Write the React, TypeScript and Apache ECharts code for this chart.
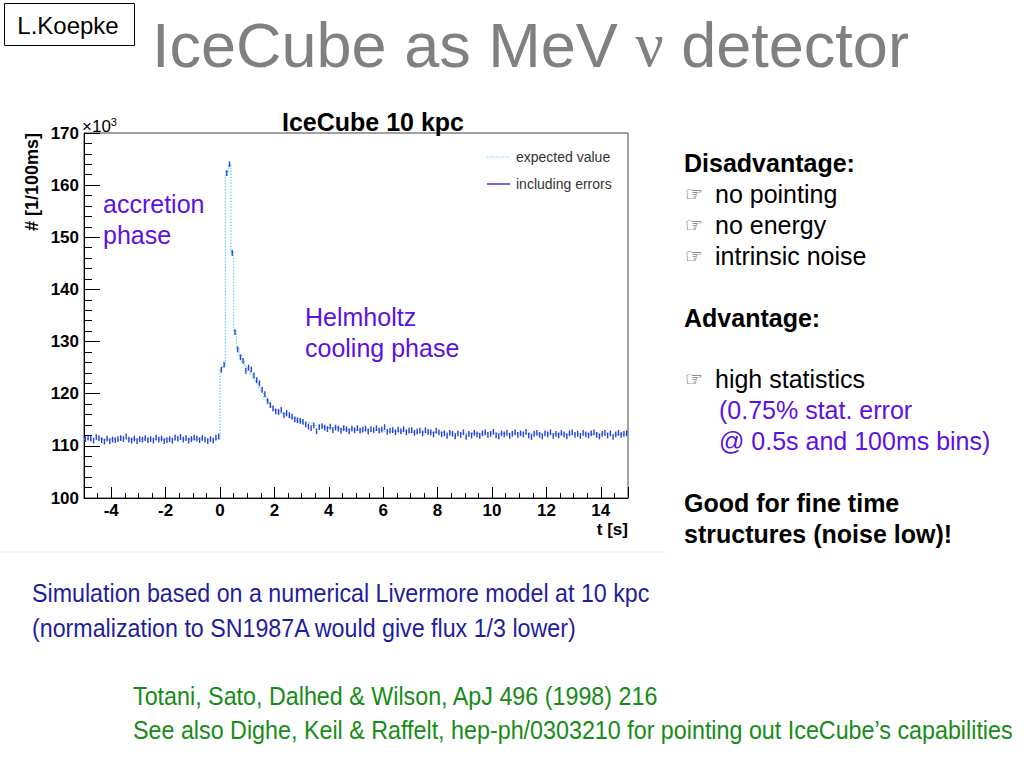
import React, { useEffect, useRef } from 'react';
import * as echarts from 'echarts';

// ---- data (counts per 100 ms bin, in units of 10^3) ----
const BIN_START = -5;
const BIN_WIDTH = 0.1;
const X_MIN = -5;
const X_MAX = 15;
const Y_MIN = 100;
const Y_MAX = 170;

// t = -5.0 .. -0.1
const preBurst = [
  111.3, 111.6, 111.4, 111.0, 111.7, 111.5, 111.1, 110.8, 111.4, 110.9,
  111.2, 111.1, 111.3, 111.5, 111.3, 111.8, 111.2, 111.0, 111.4, 110.9,
  111.3, 111.2, 111.5, 111.1, 111.3, 111.0, 111.6, 111.2, 111.4, 110.9,
  111.1, 111.3, 111.0, 111.6, 111.4, 111.7, 111.2, 111.5, 111.0, 111.3,
  111.6, 111.4, 111.1, 111.5, 111.2, 110.9, 111.3, 111.0, 111.6, 111.8,
];
// t = 0.0 .. 2.9
const burst = [
  124.6, 125.6, 162.3, 164.0, 147.0, 131.8, 128.5, 127.0, 126.3, 124.4,
  125.0, 124.6, 123.5, 122.6, 122.0, 120.8, 119.9, 118.6, 117.8, 117.2,
  116.6, 116.5, 116.9, 115.9, 116.3, 115.9, 115.6, 115.1, 114.9, 114.8,
];
// t = 3.0 .. 7.9
const cooling = [
  114.6, 114.1, 113.7, 113.4, 113.9, 112.8, 113.6, 113.8, 113.5, 113.2,
  113.7, 113.0, 113.5, 113.3, 112.9, 113.4, 113.2, 112.8, 113.3, 113.0,
  113.4, 112.9, 113.1, 113.3, 112.8, 113.2, 113.0, 113.4, 112.9, 113.1,
  113.6, 112.7, 112.9, 113.0, 112.6, 113.1, 112.8, 113.2, 112.6, 112.9,
  113.0, 112.5, 112.8, 112.9, 112.4, 113.0, 112.7, 112.6, 112.2, 112.9,
];
// t = 8.0 .. 14.9
const tail = [
  112.6, 112.2, 112.4, 111.9, 112.5, 112.3, 111.8, 112.4, 112.1, 112.6,
  111.7, 112.3, 112.0, 112.5, 112.2, 111.9, 112.4, 112.6, 112.1, 112.3,
  112.7, 112.0, 111.8, 112.4, 112.2, 112.5, 111.9, 112.3, 112.6, 112.1,
  112.4, 112.2, 112.7, 112.0, 111.7, 112.3, 112.5, 112.1, 111.8, 112.4,
  112.2, 112.6, 111.9, 112.3, 112.0, 112.5, 112.2, 111.8, 112.4, 112.6,
  112.1, 112.3, 111.9, 112.5, 112.2, 112.0, 112.4, 112.6, 112.1, 111.8,
  112.3, 112.5, 112.0, 112.4, 111.7, 112.2, 112.5, 112.1, 112.3, 112.4,
];
const measured = [...preBurst, ...burst, ...cooling, ...tail];
const ERROR_HALF = 0.55;

// expected value (model), low edges of (merged) bins and contents
const expectedEdges = [
  -5, 0, 0.1, 0.2, 0.3, 0.4, 0.5, 0.6, 0.7, 0.8, 0.9, 1.0, 1.1, 1.2, 1.3, 1.4,
  1.5, 1.6, 1.7, 1.8, 1.9, 2.0, 2.2, 2.4, 2.6, 2.8, 3.0, 3.4, 3.8, 4.4, 5.0,
  6.0, 7.0, 8.5, 10, 12,
];
const expectedValues = [
  111.3, 124.8, 125.3, 162.6, 164.1, 147.2, 132.0, 128.7, 127.3, 126.2, 125.2,
  124.5, 123.8, 122.9, 122.1, 121.2, 120.3, 119.4, 118.6, 117.9, 117.3, 116.7,
  116.2, 115.7, 115.3, 114.9, 114.4, 113.9, 113.5, 113.2, 113.0, 112.8, 112.6,
  112.4, 112.3, 112.2,
];

const rightText = [
  { text: 'Disadvantage:', kind: 'bold' },
  { text: 'no pointing', kind: 'hand' },
  { text: 'no energy', kind: 'hand' },
  { text: 'intrinsic noise', kind: 'hand' },
  { text: '', kind: 'blank' },
  { text: 'Advantage:', kind: 'bold' },
  { text: '', kind: 'blank' },
  { text: 'high statistics', kind: 'hand' },
  { text: '(0.75% stat. error', kind: 'purple' },
  { text: '@ 0.5s and 100ms bins)', kind: 'purple' },
  { text: '', kind: 'blank' },
  { text: 'Good for fine time', kind: 'bold' },
  { text: 'structures (noise low)!', kind: 'bold' },
];

const FONT = '"Liberation Sans", Arial, Helvetica, sans-serif';
const PURPLE = '#5c10e4';
const BLUE_TXT = '#1e1e9e';
const GREEN_TXT = '#168c16';

function txt(text: string, x: number, y: number, opts: any = {}) {
  const align = opts.align || 'left';
  const va = opts.va || 'middle';
  return {
    type: 'text',
    x,
    y,
    rotation: opts.rotation || 0,
    scaleX: opts.scaleX || 1,
    z: 100,
    style: {
      text,
      fontSize: opts.size || 16,
      fontWeight: opts.weight || 'normal',
      fontFamily: opts.family || FONT,
      fill: opts.color || '#000',
      align,
      textAlign: align,
      verticalAlign: va,
      textVerticalAlign: va,
      rich: opts.rich,
    },
  };
}

export default function App() {
  const ref = useRef<HTMLDivElement>(null);

  useEffect(() => {
    if (!ref.current) return;
    const chart = echarts.init(ref.current, undefined, { renderer: 'svg' });

    const errData = measured.map((v, i) => [BIN_START + (i + 0.5) * BIN_WIDTH, v]);
    const expData: number[][] = expectedEdges.map((e, i) => [e, expectedValues[i]]);
    expData.push([X_MAX, expectedValues[expectedValues.length - 1]]);

    const graphics: any[] = [];
    // L.Koepke box
    graphics.push({
      type: 'rect',
      shape: { x: 4.5, y: 3.5, width: 130, height: 42 },
      style: { fill: '#fff', stroke: '#000', lineWidth: 1 },
      z: 99,
    });
    graphics.push(txt('L.Koepke', 68, 25, { size: 24, align: 'center' }));
    // slide title
    graphics.push(
      txt('{a|IceCube as MeV }{b|ν}{a| detector}', 152, 45, {
        size: 63,
        color: '#808080',
        rich: {
          a: { fontSize: 63, fontFamily: FONT, fill: '#808080', color: '#808080' },
          b: { fontSize: 63, fontFamily: '"Liberation Serif", "DejaVu Serif", serif', fill: '#808080', color: '#808080' },
        },
      })
    );

    // chart title
    graphics.push(txt('IceCube 10 kpc', 373, 122, { size: 25, weight: 'bold', align: 'center' }));
    // x10^3
    graphics.push(
      txt('{a|×10}{b|3}', 82, 126, {
        size: 17,
        rich: {
          a: { fontSize: 17, fontFamily: FONT, fill: '#000', color: '#000' },
          b: { fontSize: 11, fontFamily: FONT, fill: '#000', color: '#000', verticalAlign: 'top', padding: [0, 0, 9, 0] },
        },
      })
    );
    // y-axis name
    graphics.push(txt('# [1/100ms]', 32, 182, { size: 18, weight: 'bold', align: 'center', rotation: Math.PI / 2 }));
    // x-axis name
    graphics.push(txt('t [s]', 628, 529, { size: 17, weight: 'bold', align: 'right' }));

    // legend
    graphics.push({
      type: 'line',
      shape: { x1: 487, y1: 157, x2: 510, y2: 157 },
      style: { stroke: '#55d6f2', lineWidth: 1.2, lineDash: [1.5, 1.5] },
      z: 100,
    });
    graphics.push(txt('expected value', 516, 157, { size: 14, color: '#333' }));
    graphics.push({
      type: 'line',
      shape: { x1: 487, y1: 184, x2: 510, y2: 184 },
      style: { stroke: '#3a3ad0', lineWidth: 1.5 },
      z: 100,
    });
    graphics.push(txt('including errors', 516, 184, { size: 14, color: '#333' }));

    // annotations
    graphics.push(txt('accretion', 103, 204, { size: 25, color: PURPLE }));
    graphics.push(txt('phase', 103, 235, { size: 25, color: PURPLE }));
    graphics.push(txt('Helmholtz', 305, 317, { size: 25, color: PURPLE }));
    graphics.push(txt('cooling phase', 305, 348, { size: 25, color: PURPLE }));

    // right column
    rightText.forEach((l, i) => {
      const y = 163 + i * 30.9;
      if (l.kind === 'blank') return;
      if (l.kind === 'bold') graphics.push(txt(l.text, 684, y, { size: 25, weight: 'bold' }));
      if (l.kind === 'hand') {
        graphics.push(txt('☞', 685, y, { size: 20, color: '#333', family: '"DejaVu Sans", sans-serif' }));
        graphics.push(txt(l.text, 715, y, { size: 25 }));
      }
      if (l.kind === 'purple') graphics.push(txt(l.text, 719, y, { size: 25, color: PURPLE }));
    });

    // faint separator under the chart
    graphics.push({
      type: 'line',
      shape: { x1: 0, y1: 552, x2: 666, y2: 552 },
      style: { stroke: '#ececec', lineWidth: 1 },
      z: 1,
    });

    // bottom texts
    graphics.push(txt('Simulation based on a numerical Livermore model at 10 kpc', 32, 593, { size: 25, color: BLUE_TXT, scaleX: 0.93 }));
    graphics.push(txt('(normalization to SN1987A would give flux 1/3 lower)', 32, 628, { size: 25, color: BLUE_TXT, scaleX: 0.93 }));
    graphics.push(txt('Totani, Sato, Dalhed & Wilson, ApJ 496 (1998) 216', 133, 696, { size: 25, color: GREEN_TXT, scaleX: 0.932 }));
    graphics.push(txt('See also Dighe, Keil & Raffelt, hep-ph/0303210 for pointing out IceCube’s capabilities', 133, 730, { size: 25, color: GREEN_TXT, scaleX: 0.932 }));

    chart.setOption({
      animation: false,
      backgroundColor: '#fff',
      grid: {
        left: 84,
        top: 133,
        right: 396,
        bottom: 270,
        show: true,
        borderColor: '#444',
        borderWidth: 1,
        backgroundColor: 'transparent',
      },
      xAxis: {
        type: 'value',
        min: X_MIN,
        max: X_MAX,
        splitNumber: 10,
        axisLine: { show: true, onZero: false, lineStyle: { color: '#000', width: 1 } },
        axisTick: { show: true, inside: true, length: 11, lineStyle: { color: '#000', width: 1 } },
        minorTick: { show: true, splitNumber: 4, length: 5, lineStyle: { color: '#000', width: 1 } },
        axisLabel: {
          showMinLabel: false,
          showMaxLabel: false,
          fontSize: 17,
          fontWeight: 'bold',
          fontFamily: FONT,
          color: '#000',
          margin: 4,
        },
        splitLine: { show: false },
      },
      yAxis: {
        type: 'value',
        min: Y_MIN,
        max: Y_MAX,
        interval: 10,
        axisLine: { show: true, onZero: false, lineStyle: { color: '#000', width: 1 } },
        axisTick: { show: true, inside: true, length: 16, lineStyle: { color: '#000', width: 1 } },
        minorTick: { show: true, splitNumber: 5, length: 8, lineStyle: { color: '#000', width: 1 } },
        axisLabel: {
          fontSize: 17,
          fontWeight: 'bold',
          fontFamily: FONT,
          color: '#000',
          margin: 5,
        },
        splitLine: { show: false },
      },
      series: [
        {
          name: 'expected value',
          type: 'line',
          step: 'end',
          data: expData,
          showSymbol: false,
          symbol: 'none',
          lineStyle: { color: '#55d6f2', width: 1.2, type: [1.5, 1.5] },
          z: 2,
          silent: true,
        },
        {
          name: 'including errors',
          type: 'custom',
          data: errData,
          encode: { x: 0, y: 1 },
          clip: true,
          z: 3,
          renderItem: (params: any, api: any) => {
            const x = api.value(0);
            const v = api.value(1);
            const p1 = api.coord([x, v - ERROR_HALF]);
            const p2 = api.coord([x, v + ERROR_HALF]);
            return {
              type: 'line',
              shape: { x1: p1[0], y1: p1[1], x2: p2[0], y2: p2[1] },
              style: { stroke: '#2b3fe0', lineWidth: 1.4 },
            };
          },
        },
      ],
      graphic: { elements: graphics },
    });

    return () => chart.dispose();
  }, []);

  return (
    <div
      ref={ref}
      style={{ position: 'absolute', left: 0, top: 0, width: 1024, height: 768, background: '#fff' }}
    />
  );
}
